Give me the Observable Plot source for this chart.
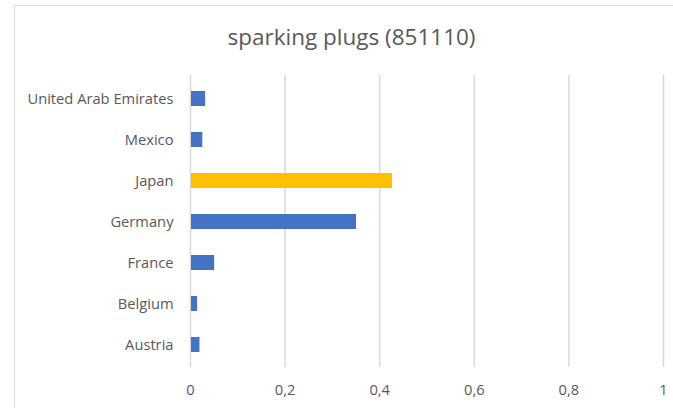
<!DOCTYPE html>
<html>
<head>
<meta charset="utf-8">
<script src="https://cdn.jsdelivr.net/npm/d3@7"></script>
<script src="https://cdn.jsdelivr.net/npm/@observablehq/plot@0.6"></script>
<style>
  html, body { margin: 0; padding: 0; background: #fff; }
  #wrap { position: relative; width: 673px; height: 408px; overflow: hidden; font-family: "Open Sans", Lato, sans-serif; }
  #frame { position: absolute; left: 14px; top: 5px; width: 680px; height: 420px; border: 1px solid #d9d9d9; box-sizing: border-box; }
  #title { position: absolute; left: 0; width: 703px; top: 21px; text-align: center; font-size: 22.5px; color: #595959; }
  #chart { position: absolute; left: 0; top: 0; }
</style>
</head>
<body>
<div id="wrap">
  <div id="frame"></div>
  <div id="title">sparking plugs (851110)</div>
  <div id="chart"></div>
</div>
<script>
const countries = ["United Arab Emirates", "Mexico", "Japan", "Germany", "France", "Belgium", "Austria"];
const values = [0.032, 0.026, 0.427, 0.351, 0.051, 0.015, 0.020];
const highlight = ["Japan"];
const xTicks = [0, 0.2, 0.4, 0.6, 0.8, 1];

const data = countries.map((c, i) => ({country: c, value: values[i], hl: highlight.includes(c)}));
const fmt = d => String(d).replace(".", ",");

const chart = Plot.plot({
  width: 673,
  height: 408,
  marginLeft: 190,
  marginRight: 10,
  marginTop: 75,
  marginBottom: 41,
  style: {background: "transparent", fontFamily: "'Open Sans', Lato, sans-serif", fontSize: "14.7px", color: "#595959"},
  x: {domain: [0, 1], ticks: xTicks, tickFormat: fmt, label: null},
  y: {domain: countries, paddingInner: 0.64, paddingOuter: 0.32, label: null},
  marks: [
    Plot.gridX(xTicks, {stroke: "#d9d9d9", strokeOpacity: 1, strokeWidth: 1.5}),
    Plot.barX(data, {x: "value", y: "country", fill: d => d.hl ? "#FFC000" : "#4472C4", insetLeft: 1}),
    Plot.axisX({ticks: xTicks, tickSize: 0, tickPadding: 17, tickFormat: fmt, fill: "#595959", fontSize: 14.7, label: null}),
    Plot.axisY({tickSize: 0, tickPadding: 17, fill: "#595959", fontSize: 14.7, label: null})
  ]
});
document.getElementById("chart").appendChild(chart);
</script>
</body>
</html>
